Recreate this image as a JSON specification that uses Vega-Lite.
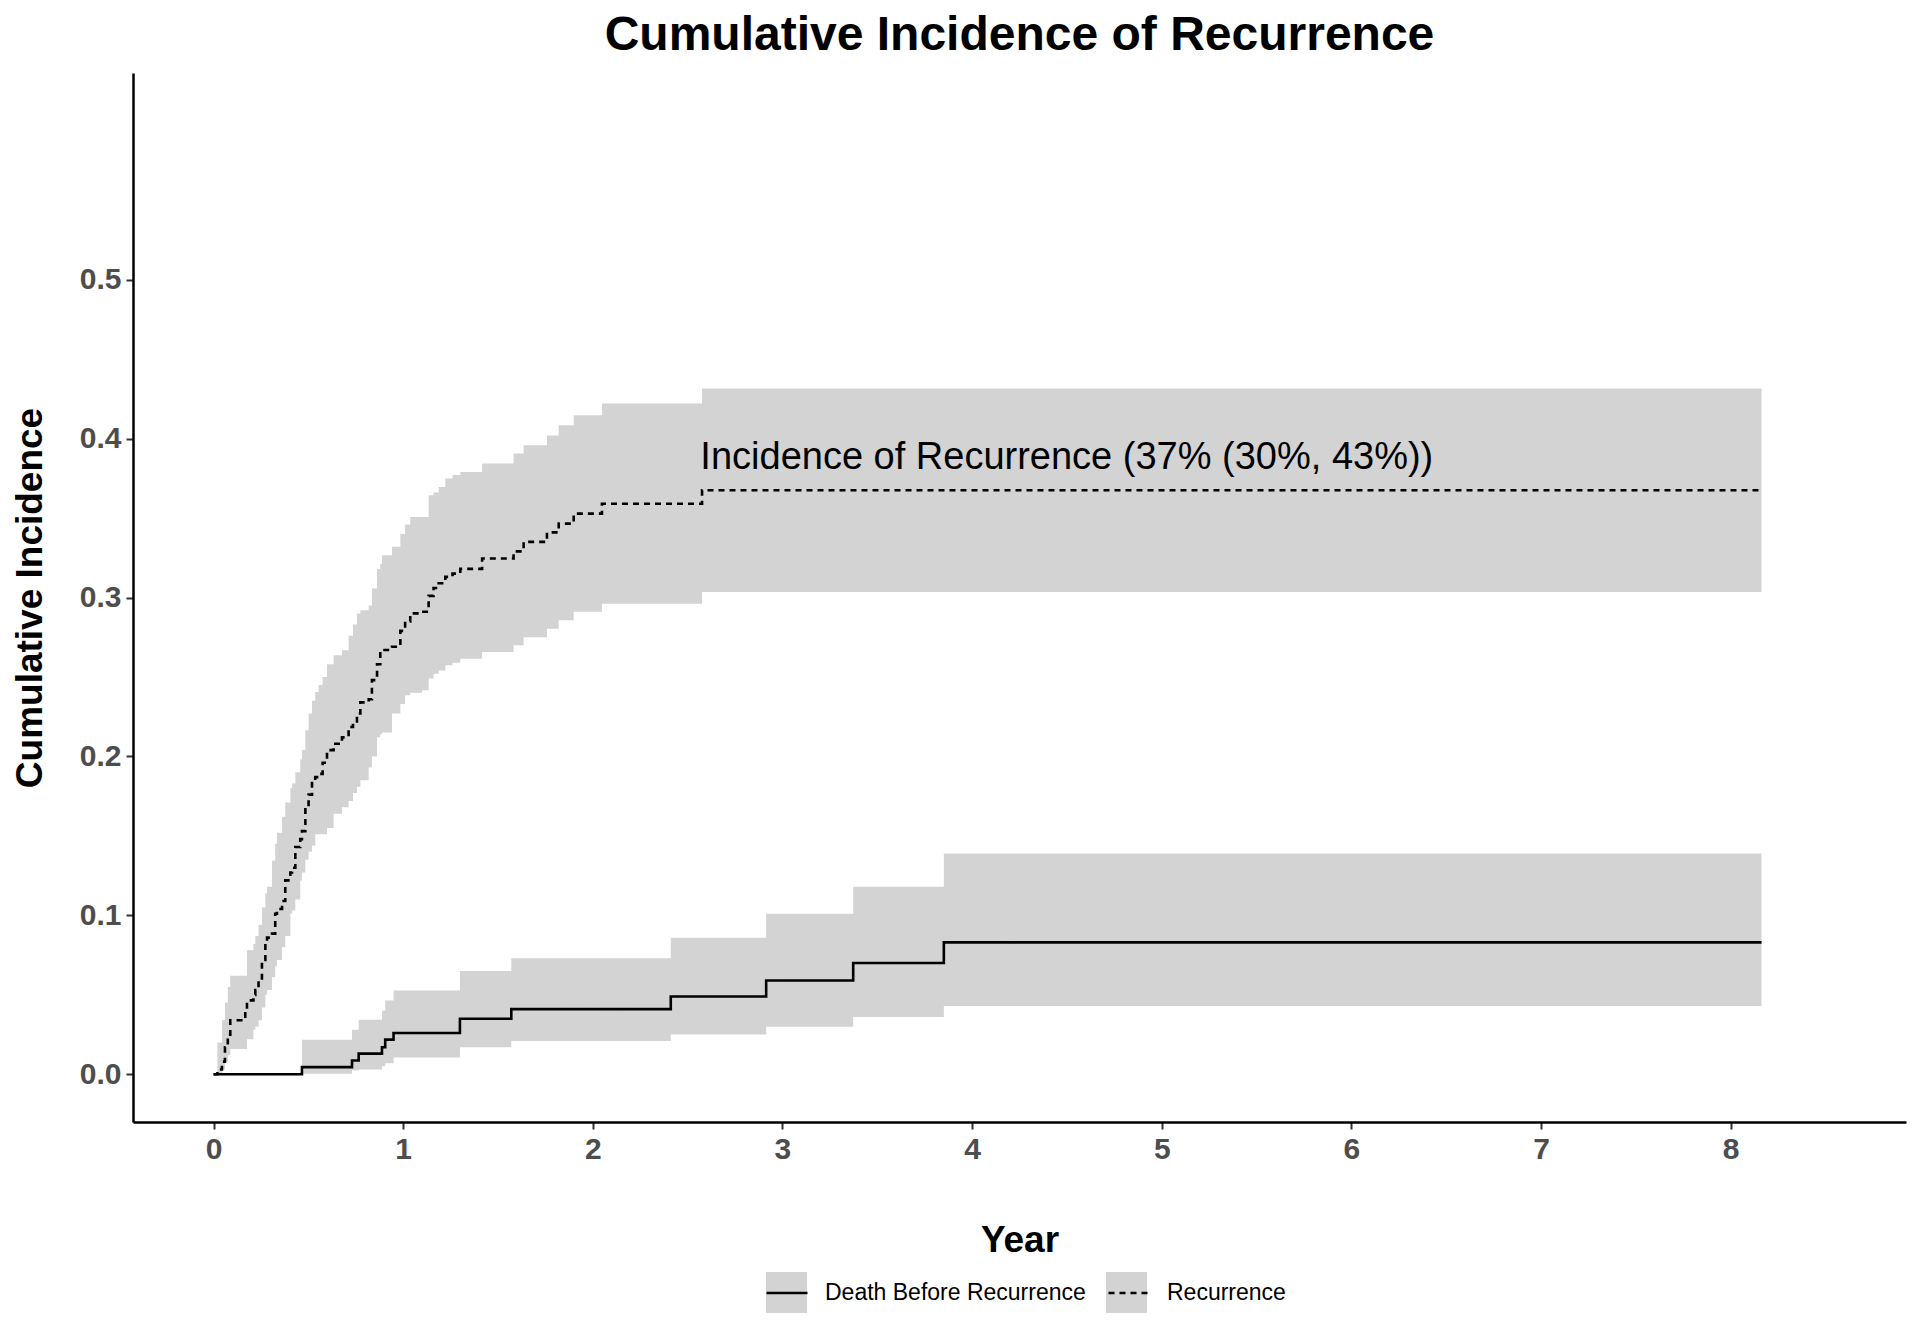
{
  "$schema": "https://vega.github.io/schema/vega-lite/v6.json",
  "width": 1773,
  "height": 1049,
  "autosize": {"type": "none"},
  "padding": {"left": 133, "top": 73, "right": 14, "bottom": 222},
  "background": "white",
  "config": {
    "view": {"stroke": null},
    "font": "Liberation Sans",
    "axis": {
      "grid": false,
      "domainColor": "black",
      "domainWidth": 2.5,
      "tickColor": "#333333",
      "tickWidth": 2,
      "tickSize": 7,
      "labelFont": "Liberation Sans",
      "labelFontWeight": "bold",
      "labelFontSize": 30,
      "labelColor": "#4D4D4D",
      "labelPadding": 5,
      "titleFont": "Liberation Sans",
      "titleFontWeight": "bold",
      "titleFontSize": 37,
      "titleColor": "black"
    },
    "legend": {
      "orient": "none",
      "legendX": 632,
      "legendY": 1198,
      "direction": "horizontal",
      "padding": 0,
      "title": null,
      "labelFont": "Liberation Sans",
      "labelFontSize": 23,
      "labelColor": "black",
      "labelLimit": 0,
      "labelOffset": 16,
      "columnPadding": 17,
      "symbolSize": 1681,
      "symbolStrokeWidth": 2
    }
  },
  "title": {
    "text": "Cumulative Incidence of Recurrence",
    "fontSize": 48,
    "fontWeight": "bold",
    "font": "Liberation Sans",
    "color": "black",
    "anchor": "middle",
    "offset": 13
  },
  "data": {
    "values": [
      {"group": "Recurrence", "time": 0.0, "est": 0.0, "lo": 0.0, "hi": 0.0},
      {"group": "Recurrence", "time": 0.02, "est": 0.003, "lo": 0.0, "hi": 0.02},
      {"group": "Recurrence", "time": 0.044, "est": 0.008, "lo": 0.003, "hi": 0.034},
      {"group": "Recurrence", "time": 0.06, "est": 0.017, "lo": 0.008, "hi": 0.045},
      {"group": "Recurrence", "time": 0.075, "est": 0.025, "lo": 0.012, "hi": 0.055},
      {"group": "Recurrence", "time": 0.088, "est": 0.034, "lo": 0.016, "hi": 0.062},
      {"group": "Recurrence", "time": 0.167, "est": 0.04, "lo": 0.016, "hi": 0.062},
      {"group": "Recurrence", "time": 0.176, "est": 0.0465, "lo": 0.022, "hi": 0.078},
      {"group": "Recurrence", "time": 0.21, "est": 0.05, "lo": 0.028, "hi": 0.082},
      {"group": "Recurrence", "time": 0.22, "est": 0.053, "lo": 0.03, "hi": 0.087},
      {"group": "Recurrence", "time": 0.237, "est": 0.059, "lo": 0.034, "hi": 0.094},
      {"group": "Recurrence", "time": 0.255, "est": 0.072, "lo": 0.042, "hi": 0.105},
      {"group": "Recurrence", "time": 0.273, "est": 0.084, "lo": 0.05, "hi": 0.114},
      {"group": "Recurrence", "time": 0.282, "est": 0.086, "lo": 0.053, "hi": 0.118},
      {"group": "Recurrence", "time": 0.308, "est": 0.0885, "lo": 0.061, "hi": 0.1346},
      {"group": "Recurrence", "time": 0.325, "est": 0.101, "lo": 0.068, "hi": 0.145},
      {"group": "Recurrence", "time": 0.334, "est": 0.104, "lo": 0.072, "hi": 0.152},
      {"group": "Recurrence", "time": 0.361, "est": 0.109, "lo": 0.08, "hi": 0.162},
      {"group": "Recurrence", "time": 0.378, "est": 0.122, "lo": 0.087, "hi": 0.171},
      {"group": "Recurrence", "time": 0.405, "est": 0.127, "lo": 0.101, "hi": 0.18},
      {"group": "Recurrence", "time": 0.414, "est": 0.13, "lo": 0.103, "hi": 0.183},
      {"group": "Recurrence", "time": 0.431, "est": 0.143, "lo": 0.11, "hi": 0.19},
      {"group": "Recurrence", "time": 0.457, "est": 0.148, "lo": 0.122, "hi": 0.198},
      {"group": "Recurrence", "time": 0.466, "est": 0.153, "lo": 0.127, "hi": 0.204},
      {"group": "Recurrence", "time": 0.484, "est": 0.168, "lo": 0.135, "hi": 0.2165},
      {"group": "Recurrence", "time": 0.501, "est": 0.176, "lo": 0.14, "hi": 0.227},
      {"group": "Recurrence", "time": 0.519, "est": 0.185, "lo": 0.144, "hi": 0.235},
      {"group": "Recurrence", "time": 0.536, "est": 0.187, "lo": 0.151, "hi": 0.2405},
      {"group": "Recurrence", "time": 0.554, "est": 0.189, "lo": 0.151, "hi": 0.245},
      {"group": "Recurrence", "time": 0.575, "est": 0.196, "lo": 0.151, "hi": 0.25},
      {"group": "Recurrence", "time": 0.598, "est": 0.204, "lo": 0.155, "hi": 0.258},
      {"group": "Recurrence", "time": 0.633, "est": 0.208, "lo": 0.164, "hi": 0.2636},
      {"group": "Recurrence", "time": 0.677, "est": 0.212, "lo": 0.168, "hi": 0.2668},
      {"group": "Recurrence", "time": 0.712, "est": 0.2185, "lo": 0.172, "hi": 0.276},
      {"group": "Recurrence", "time": 0.735, "est": 0.222, "lo": 0.177, "hi": 0.283},
      {"group": "Recurrence", "time": 0.756, "est": 0.227, "lo": 0.181, "hi": 0.29},
      {"group": "Recurrence", "time": 0.774, "est": 0.234, "lo": 0.185, "hi": 0.292},
      {"group": "Recurrence", "time": 0.818, "est": 0.236, "lo": 0.193, "hi": 0.295},
      {"group": "Recurrence", "time": 0.835, "est": 0.248, "lo": 0.2, "hi": 0.3056},
      {"group": "Recurrence", "time": 0.862, "est": 0.258, "lo": 0.212, "hi": 0.318},
      {"group": "Recurrence", "time": 0.879, "est": 0.266, "lo": 0.214, "hi": 0.321},
      {"group": "Recurrence", "time": 0.888, "est": 0.267, "lo": 0.215, "hi": 0.3266},
      {"group": "Recurrence", "time": 0.941, "est": 0.269, "lo": 0.227, "hi": 0.332},
      {"group": "Recurrence", "time": 0.985, "est": 0.279, "lo": 0.233, "hi": 0.34},
      {"group": "Recurrence", "time": 1.01, "est": 0.285, "lo": 0.2385, "hi": 0.346},
      {"group": "Recurrence", "time": 1.037, "est": 0.29, "lo": 0.24, "hi": 0.3507},
      {"group": "Recurrence", "time": 1.099, "est": 0.291, "lo": 0.2416, "hi": 0.3507},
      {"group": "Recurrence", "time": 1.134, "est": 0.301, "lo": 0.249, "hi": 0.3643},
      {"group": "Recurrence", "time": 1.16, "est": 0.306, "lo": 0.252, "hi": 0.366},
      {"group": "Recurrence", "time": 1.187, "est": 0.309, "lo": 0.254, "hi": 0.3695},
      {"group": "Recurrence", "time": 1.222, "est": 0.313, "lo": 0.2573, "hi": 0.3748},
      {"group": "Recurrence", "time": 1.26, "est": 0.315, "lo": 0.259, "hi": 0.377},
      {"group": "Recurrence", "time": 1.301, "est": 0.318, "lo": 0.2615, "hi": 0.379},
      {"group": "Recurrence", "time": 1.416, "est": 0.3245, "lo": 0.2657, "hi": 0.3843},
      {"group": "Recurrence", "time": 1.582, "est": 0.329, "lo": 0.27, "hi": 0.3906},
      {"group": "Recurrence", "time": 1.635, "est": 0.335, "lo": 0.275, "hi": 0.3958},
      {"group": "Recurrence", "time": 1.758, "est": 0.341, "lo": 0.2804, "hi": 0.402},
      {"group": "Recurrence", "time": 1.82, "est": 0.3465, "lo": 0.2857, "hi": 0.4084},
      {"group": "Recurrence", "time": 1.899, "est": 0.3528, "lo": 0.291, "hi": 0.4147},
      {"group": "Recurrence", "time": 2.048, "est": 0.359, "lo": 0.296, "hi": 0.422},
      {"group": "Recurrence", "time": 2.576, "est": 0.3675, "lo": 0.3035, "hi": 0.4315},
      {"group": "Recurrence", "time": 8.163, "est": 0.3675, "lo": 0.3035, "hi": 0.4315},
      {"group": "Death Before Recurrence", "time": 0.0, "est": 0.0, "lo": 0.0, "hi": 0.0},
      {"group": "Death Before Recurrence", "time": 0.466, "est": 0.0045, "lo": 0.0003, "hi": 0.0218},
      {"group": "Death Before Recurrence", "time": 0.73, "est": 0.0087, "lo": 0.0025, "hi": 0.028},
      {"group": "Death Before Recurrence", "time": 0.765, "est": 0.013, "lo": 0.003, "hi": 0.0344},
      {"group": "Death Before Recurrence", "time": 0.888, "est": 0.017, "lo": 0.005, "hi": 0.04},
      {"group": "Death Before Recurrence", "time": 0.905, "est": 0.0218, "lo": 0.007, "hi": 0.0465},
      {"group": "Death Before Recurrence", "time": 0.949, "est": 0.026, "lo": 0.0106, "hi": 0.0528},
      {"group": "Death Before Recurrence", "time": 1.299, "est": 0.035, "lo": 0.017, "hi": 0.065},
      {"group": "Death Before Recurrence", "time": 1.57, "est": 0.041, "lo": 0.021, "hi": 0.073},
      {"group": "Death Before Recurrence", "time": 2.411, "est": 0.049, "lo": 0.025, "hi": 0.086},
      {"group": "Death Before Recurrence", "time": 2.914, "est": 0.059, "lo": 0.03, "hi": 0.101},
      {"group": "Death Before Recurrence", "time": 3.373, "est": 0.07, "lo": 0.036, "hi": 0.118},
      {"group": "Death Before Recurrence", "time": 3.851, "est": 0.083, "lo": 0.043, "hi": 0.139},
      {"group": "Death Before Recurrence", "time": 8.163, "est": 0.083, "lo": 0.043, "hi": 0.139}
    ]
  },
  "encoding": {
    "x": {
      "field": "time",
      "type": "quantitative",
      "scale": {"domain": [-0.425, 8.925], "nice": false, "zero": false},
      "axis": {"values": [0, 1, 2, 3, 4, 5, 6, 7, 8], "title": "Year", "titlePadding": 58, "format": "d"}
    }
  },
  "layer": [
    {
      "mark": {"type": "area", "interpolate": "step-after", "opacity": 1},
      "encoding": {
        "y": {
          "field": "lo",
          "type": "quantitative",
          "scale": {"domain": [-0.03, 0.63], "nice": false, "zero": false},
          "axis": {"values": [0, 0.1, 0.2, 0.3, 0.4, 0.5], "format": ".1f", "title": "Cumulative Incidence", "titlePadding": 30}
        },
        "y2": {"field": "hi"},
        "fill": {
          "field": "group",
          "type": "nominal",
          "scale": {"domain": ["Death Before Recurrence", "Recurrence"], "range": ["#D3D3D3", "#D3D3D3"]},
          "legend": {"symbolType": "square", "symbolStrokeColor": "transparent", "symbolOpacity": 1, "labelColor": "transparent", "zindex": 0}
        }
      }
    },
    {
      "mark": {"type": "line", "interpolate": "step-after", "color": "black", "strokeWidth": 2.6},
      "encoding": {
        "y": {"field": "est", "type": "quantitative"},
        "strokeDash": {
          "field": "group",
          "type": "nominal",
          "scale": {"range": [[1, 0], [6, 5]]},
          "legend": {"symbolType": "stroke", "symbolStrokeColor": "black", "symbolStrokeWidth": 2.6, "zindex": 1}
        }
      }
    },
    {
      "data": {"values": [{"tx": 2.567, "ty": 0.3807, "label": "Incidence of Recurrence (37% (30%, 43%))"}]},
      "mark": {"type": "text", "align": "left", "baseline": "alphabetic", "fontSize": 38, "font": "Liberation Sans", "color": "black"},
      "encoding": {
        "x": {"field": "tx", "type": "quantitative"},
        "y": {"field": "ty", "type": "quantitative"},
        "text": {"field": "label"}
      }
    }
  ]
}
